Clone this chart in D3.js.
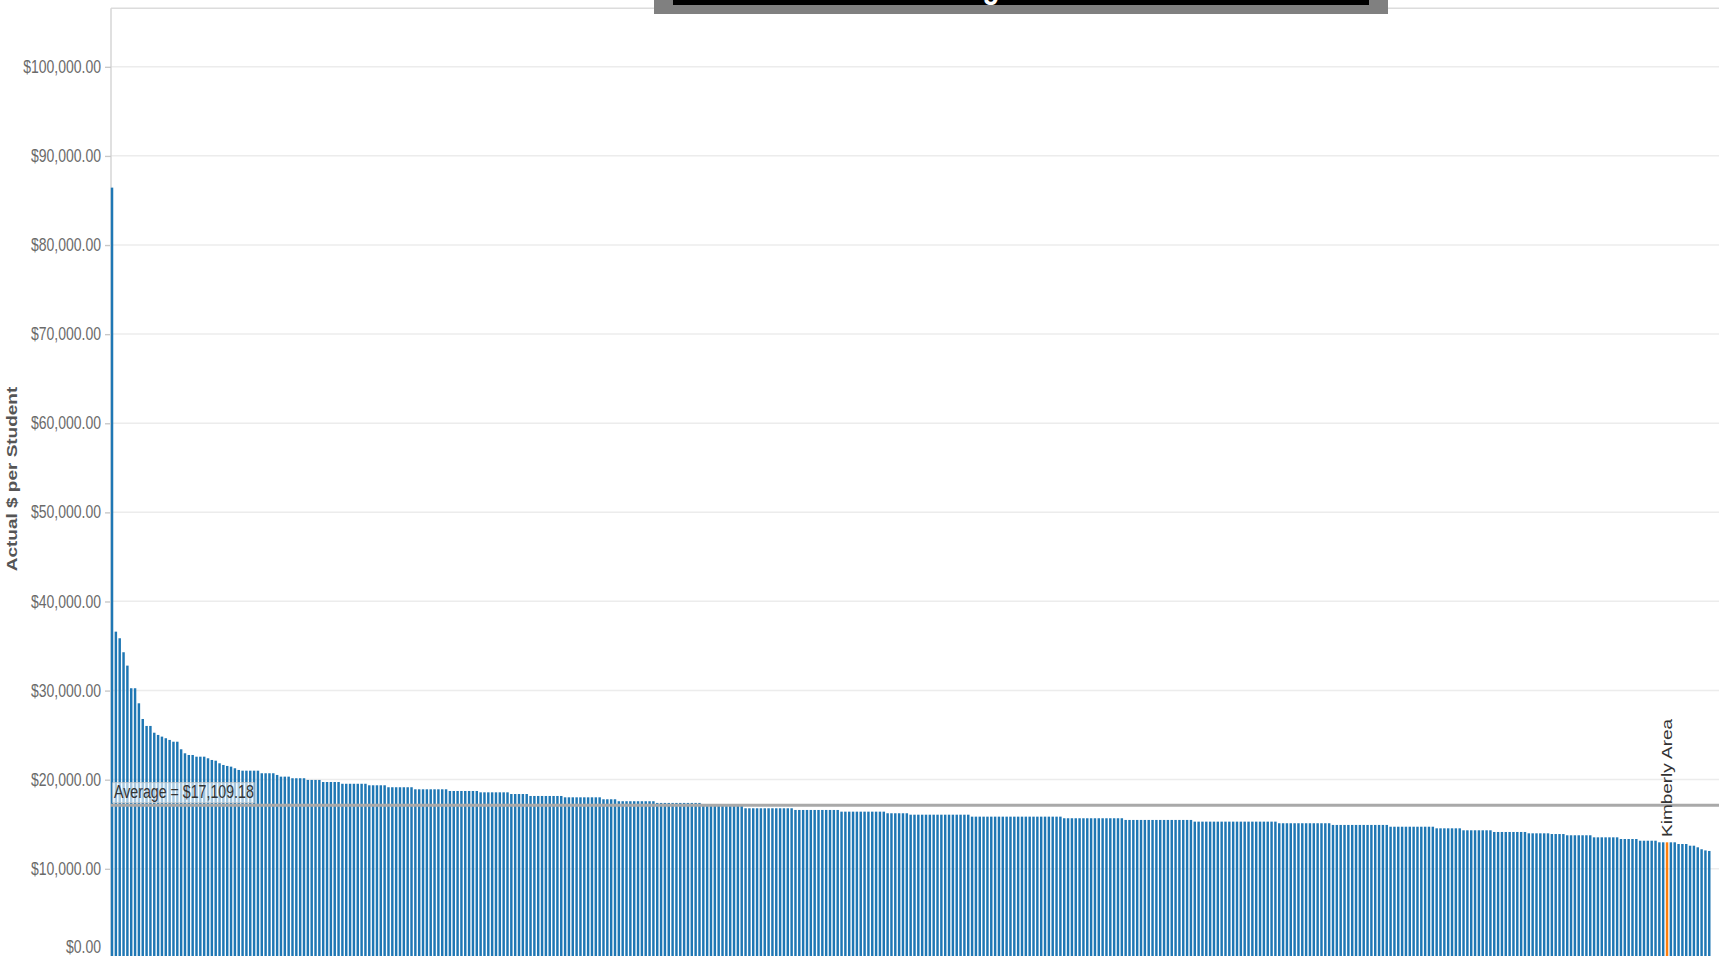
<!DOCTYPE html>
<html>
<head>
<meta charset="utf-8">
<script src="https://cdn.jsdelivr.net/npm/d3@7"></script>
<style>
  html, body { margin: 0; padding: 0; background: #ffffff; overflow: hidden; }
  svg { display: block; }
</style>
</head>
<body>
<svg id="chart"></svg>
<script>
// ---------------- data ----------------
const perStudentValues = [
  86430, 36600, 35860, 34290, 32790, 30250, 30250, 28560, 26800, 26020,
  26020, 25260, 25010, 24820, 24640, 24450, 24250, 24250, 23400, 22950,
  22760, 22760, 22570, 22570, 22570, 22390, 22200, 22120, 21830, 21640,
  21530, 21450, 21270, 21080,
  21000, 21000, 21000, 21000, 21000,
  20710, 20710, 20710, 20710,
  20520,
  20330, 20330, 20330,
  20150, 20150, 20150, 20150,
  19960, 19960, 19960, 19960,
  19730, 19730, 19730, 19730, 19730,
  19530, 19530, 19530, 19530, 19530, 19530, 19530,
  19360, 19360, 19360, 19360, 19360,
  19140, 19140, 19140, 19140, 19140, 19140, 19140,
  18910, 18910, 18910, 18910, 18910, 18910, 18910, 18910, 18910,
  18720, 18720, 18720, 18720, 18720, 18720, 18720, 18720,
  18570, 18570, 18570, 18570, 18570, 18570, 18570, 18570,
  18380, 18380, 18380, 18380, 18380,
  18160, 18160, 18160, 18160, 18160, 18160, 18160, 18160, 18160,
  18010, 18010, 18010, 18010, 18010, 18010, 18010, 18010, 18010, 18010,
  17790, 17790, 17790, 17790,
  17570, 17570, 17570, 17570, 17570, 17570, 17570, 17570, 17570, 17570,
  17380, 17380, 17380, 17380, 17380, 17380, 17380, 17380, 17380, 17380, 17380, 17380,
  17220, 17220, 17220, 17220, 17220, 17220, 17220, 17220, 17220, 17220, 17220,
  16780, 16780, 16780, 16780, 16780, 16780, 16780, 16780, 16780, 16780, 16780, 16780, 16780,
  16590, 16590, 16590, 16590, 16590, 16590, 16590, 16590, 16590, 16590, 16590, 16590,
  16400, 16400, 16400, 16400, 16400, 16400, 16400, 16400, 16400, 16400, 16400, 16400,
  16220, 16220, 16220, 16220, 16220, 16220,
  16060, 16060, 16060, 16060, 16060, 16060, 16060, 16060, 16060, 16060, 16060, 16060, 16060, 16060, 16060, 16060,
  15840, 15840, 15840, 15840, 15840, 15840, 15840, 15840, 15840, 15840, 15840, 15840,
  15840, 15840, 15840, 15840, 15840, 15840, 15840, 15840, 15840, 15840, 15840, 15840,
  15660, 15660, 15660, 15660, 15660, 15660, 15660, 15660, 15660, 15660, 15660, 15660, 15660, 15660, 15660, 15660,
  15470, 15470, 15470, 15470, 15470, 15470, 15470, 15470, 15470, 15470, 15470, 15470, 15470, 15470, 15470, 15470, 15470, 15470,
  15280, 15280, 15280, 15280, 15280, 15280, 15280, 15280, 15280, 15280, 15280,
  15280, 15280, 15280, 15280, 15280, 15280, 15280, 15280, 15280, 15280, 15280,
  15100, 15100, 15100, 15100, 15100, 15100, 15100, 15100, 15100, 15100, 15100, 15100, 15100, 15100,
  14910, 14910, 14910, 14910, 14910, 14910, 14910, 14910, 14910, 14910, 14910, 14910, 14910, 14910, 14910,
  14710, 14710, 14710, 14710, 14710, 14710, 14710, 14710, 14710, 14710, 14710, 14710,
  14530, 14530, 14530, 14530, 14530, 14530, 14530,
  14310, 14310, 14310, 14310, 14310, 14310, 14310, 14310,
  14120, 14120, 14120, 14120, 14120, 14120, 14120, 14120, 14120,
  13970, 13970, 13970, 13970, 13970, 13970,
  13890, 13890, 13890, 13890,
  13750, 13750, 13750, 13750, 13750, 13750, 13750,
  13520, 13520, 13520, 13520, 13520, 13520, 13520,
  13330, 13330, 13330, 13330, 13330,
  13140, 13140, 13140, 13140, 13140,
  12960, 12960, 12960, 12960, 12960,
  12770, 12770, 12770,
  12580, 12580,
  12400, 12180, 12050, 11990
];
const districtRank = perStudentValues.map((v, i) => i);   // districts, sorted by spending
const highlightRank = 405;
const highlightLabel = "Kimberly Area";
const averageValue = 17109.18;
const averageLabel = "Average = $17,109.18";
const yTickValues = [0, 10000, 20000, 30000, 40000, 50000, 60000, 70000, 80000, 90000, 100000];
const yTitle = "Actual $ per Student";
const chartTitle = "Budget Per Student";   // title is cut off above the picture

// ---------------- layout ----------------
const S = 1.25;                 // the reference picture is stretched vertically
const W = 1719, H = 956, VH = H / S;
const FONT = "'Liberation Sans', Arial, Helvetica, sans-serif";

const svg = d3.select("#chart")
  .attr("width", W).attr("height", H)
  .attr("viewBox", `0 0 ${W} ${VH}`)
  .attr("preserveAspectRatio", "none");

const plotLeft = 111, plotRight = W, plotTop = 8.3 / S;

const y = d3.scaleLinear().domain([0, 100000]).range([957.8 / S, 66.7 / S]);
const x = d3.scaleBand().domain(districtRank).range([110.8, 1710.5]).paddingInner(0.36).paddingOuter(0);

// gridlines
svg.append("g").selectAll("line").data(yTickValues.filter(d => d > 0)).join("line")
  .attr("x1", plotLeft).attr("x2", plotRight)
  .attr("y1", d => y(d)).attr("y2", d => y(d))
  .attr("stroke", "#ececec").attr("stroke-width", 1.2);

// top border and left axis line
svg.append("line").attr("x1", plotLeft).attr("x2", plotRight).attr("y1", plotTop).attr("y2", plotTop)
  .attr("stroke", "#dcdcdc").attr("stroke-width", 1.3);
svg.append("line").attr("x1", plotLeft).attr("x2", plotLeft).attr("y1", plotTop).attr("y2", VH)
  .attr("stroke", "#d6d6d6").attr("stroke-width", 1.5);

// bars
svg.append("g").selectAll("rect").data(perStudentValues).join("rect")
  .attr("x", (d, i) => x(i))
  .attr("width", x.bandwidth())
  .attr("y", d => y(d))
  .attr("height", d => y(0) - y(d))
  .attr("fill", (d, i) => i === highlightRank ? "#ff7f0e" : "#1f77b4");

// y axis
const axis = d3.axisLeft(y).tickValues(yTickValues)
  .tickFormat(d => "$" + d3.format(",.2f")(d))
  .tickSize(6).tickPadding(4);
const gAxis = svg.append("g").attr("transform", `translate(${plotLeft},0)`).call(axis);
gAxis.select(".domain").remove();
gAxis.selectAll(".tick line").attr("stroke", "#c8c8c8").attr("stroke-width", 1.1);
gAxis.selectAll(".tick text")
  .attr("fill", "#6a6a6a")
  .style("font-family", FONT).style("font-size", "14px");
gAxis.selectAll(".tick").filter(d => d === 0).select("text").attr("dy", "-0.32em");

// y title
svg.append("text")
  .attr("transform", `translate(17, ${479 / S}) rotate(-90)`)
  .attr("text-anchor", "middle")
  .style("font-family", FONT).style("font-size", "15.2px").style("font-weight", "bold")
  .attr("fill", "#555555")
  .text(yTitle);

// average reference line
svg.append("line")
  .attr("x1", plotLeft).attr("x2", plotRight)
  .attr("y1", y(averageValue)).attr("y2", y(averageValue))
  .attr("stroke", "#a9a9a9").attr("stroke-width", 2.4);

svg.append("rect")
  .attr("x", 112.7).attr("y", 782.7 / S).attr("width", 141.5).attr("height", 20 / S)
  .attr("fill", "#ffffff").attr("fill-opacity", 0.6)
  .attr("stroke", "#c9c9c9").attr("stroke-width", 0.6);
svg.append("text")
  .attr("x", 114).attr("y", 798 / S)
  .style("font-family", FONT).style("font-size", "14.2px")
  .attr("fill", "#333333")
  .text(averageLabel);

// highlighted district label
svg.append("text")
  .attr("transform", `translate(${x(highlightRank) + x.bandwidth() / 2 + 5}, ${837 / S}) rotate(-90)`)
  .attr("text-anchor", "start")
  .style("font-family", FONT).style("font-size", "15.2px")
  .attr("fill", "#333333")
  .text(highlightLabel);

// title box (cut off at the top of the picture)
svg.append("rect").attr("x", 654).attr("y", 0).attr("width", 734).attr("height", 14 / S).attr("fill", "#808080");
svg.append("rect").attr("x", 673).attr("y", 0).attr("width", 696).attr("height", 5 / S).attr("fill", "#000000");
svg.append("clipPath").attr("id", "titleClip")
  .append("rect").attr("x", 673).attr("y", 0).attr("width", 696).attr("height", 5 / S);
svg.append("text")
  .attr("clip-path", "url(#titleClip)")
  .attr("x", 928).attr("y", -2 / S)
  .style("font-family", FONT).style("font-size", "28px").style("font-weight", "bold")
  .attr("fill", "#ffffff")
  .text(chartTitle);
</script>
</body>
</html>
